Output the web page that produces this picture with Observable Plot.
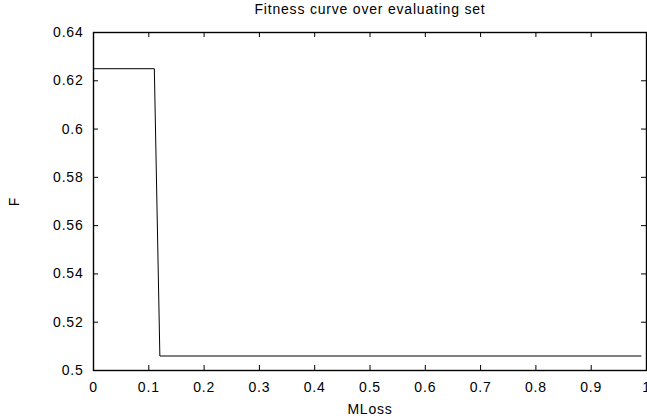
<!DOCTYPE html>
<html>
<head>
<meta charset="utf-8">
<script src="https://cdn.jsdelivr.net/npm/d3@7"></script>
<script src="https://cdn.jsdelivr.net/npm/@observablehq/plot@0.6"></script>
<style>
  html, body { margin: 0; padding: 0; background: #fff; }
  svg { overflow: visible; }
</style>
</head>
<body>
<div id="chart"></div>
<script>
const titleText = "Fitness curve over evaluating set";
const xLabel = "MLoss";
const yLabel = "F";
const mloss = [0, 0.11, 0.12, 0.99];
const fitness = [0.625, 0.625, 0.506, 0.506];
const xTicks = [0, 0.1, 0.2, 0.3, 0.4, 0.5, 0.6, 0.7, 0.8, 0.9, 1];
const yTicks = [0.5, 0.52, 0.54, 0.56, 0.58, 0.6, 0.62, 0.64];

const data = mloss.map((x, i) => ({x, y: fitness[i]}));

const W = 647, H = 418;
const mL = 93, mR = 1, mT = 32, mB = 48;
const pw = W - mL - mR, ph = H - mT - mB;
const tl = 5;

const chart = Plot.plot({
  width: W,
  height: H,
  marginLeft: mL,
  marginRight: mR,
  marginTop: mT,
  marginBottom: mB,
  style: {fontFamily: "'Liberation Sans', Arial, sans-serif", fontSize: "14px", letterSpacing: "0.8px", color: "#000", background: "#fff", overflow: "visible"},
  x: {domain: [0, 1]},
  y: {domain: [0.5, 0.64]},
  marks: [
    Plot.ruleX(xTicks, {stroke: "#000", insetTop: ph - tl}),
    Plot.ruleX(xTicks, {stroke: "#000", insetBottom: ph - tl}),
    Plot.ruleY(yTicks, {stroke: "#000", insetRight: pw - tl}),
    Plot.ruleY(yTicks, {stroke: "#000", insetLeft: pw - tl}),
    Plot.frame({stroke: "#000", strokeWidth: 1.4}),
    Plot.axisX(xTicks, {tickSize: 0, tickPadding: 12, tickFormat: d => String(d), label: xLabel, labelAnchor: "center", labelOffset: 43, labelArrow: "none"}),
    Plot.axisY(yTicks, {tickSize: 0, tickPadding: 10, tickFormat: d => String(d), label: yLabel, labelAnchor: "center", labelOffset: 84, labelArrow: "none"}),
    Plot.line(data, {x: "x", y: "y", stroke: "#000", strokeWidth: 1}),
    Plot.text([titleText], {frameAnchor: "top", dy: -28, fontSize: 14, text: d => d})
  ]
});
document.getElementById("chart").appendChild(chart);
</script>
</body>
</html>
